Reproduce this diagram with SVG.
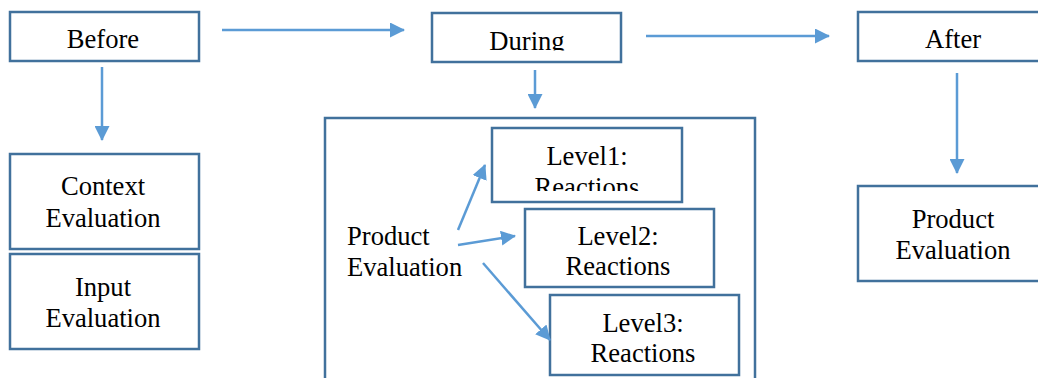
<svg xmlns="http://www.w3.org/2000/svg" width="1038" height="378" viewBox="0 0 1038 378">
<style>
.box{fill:#fff;stroke:#41719c;stroke-width:2.5}
.t{font-family:"Liberation Serif","Times New Roman",serif;font-size:26.6px;fill:#000}
.c{text-anchor:middle}
.cn{fill:none;stroke:#5b9bd5;stroke-width:2.5}
</style>
<defs>
<marker id="ah" markerUnits="userSpaceOnUse" markerWidth="15" markerHeight="15" refX="14" refY="7.5" orient="auto" viewBox="0 0 15 15">
<path d="M0,0 L15,7.5 L0,15 z" fill="#5b9bd5"/>
</marker>
<clipPath id="cpDuring"><rect x="432" y="13" width="189" height="37.5"/></clipPath>
<clipPath id="cpL1"><rect x="492" y="128" width="190" height="63"/></clipPath>
</defs>
<rect width="1038" height="378" fill="#fff"/>
<g id="container"><rect class="box" x="325" y="118" width="430" height="280"/></g>
<g id="before"><rect class="box" x="10" y="12" width="189" height="49"/><text class="t c" x="103" y="48">Before</text></g>
<g id="during"><rect class="box" x="432" y="13" width="189" height="49"/><text class="t c" x="527" y="50" clip-path="url(#cpDuring)">During</text></g>
<g id="after"><rect class="box" x="858" y="12" width="192" height="49"/><text class="t c" x="953" y="48">After</text></g>
<g id="context"><rect class="box" x="10" y="154" width="189" height="95"/><text class="t c" x="103" y="195">Context</text><text class="t c" x="103" y="227">Evaluation</text></g>
<g id="input"><rect class="box" x="10" y="254" width="189" height="95"/><text class="t c" x="103" y="296">Input</text><text class="t c" x="103" y="327">Evaluation</text></g>
<g id="product-after"><rect class="box" x="858" y="186" width="192" height="95"/><text class="t c" x="953" y="228">Product</text><text class="t c" x="953" y="259">Evaluation</text></g>
<g id="product-during"><text class="t" x="347" y="245">Product</text><text class="t" x="347" y="276">Evaluation</text></g>
<g id="level1"><rect class="box" x="492" y="128" width="190" height="74"/><text class="t c" x="587" y="165">Level1:</text><text class="t c" x="587" y="196" clip-path="url(#cpL1)">Reactions</text></g>
<g id="level2"><rect class="box" x="525" y="209" width="189" height="78"/><text class="t c" x="618" y="245">Level2:</text><text class="t c" x="618" y="275">Reactions</text></g>
<g id="level3"><rect class="box" x="550" y="295" width="189" height="80"/><text class="t c" x="643" y="332">Level3:</text><text class="t c" x="643" y="362">Reactions</text></g>
<g id="connectors">
<line class="cn" x1="222" y1="30" x2="404" y2="30" marker-end="url(#ah)"/>
<line class="cn" x1="646" y1="36" x2="829" y2="36" marker-end="url(#ah)"/>
<line class="cn" x1="102" y1="67" x2="102" y2="140" marker-end="url(#ah)"/>
<line class="cn" x1="535" y1="70" x2="535" y2="108" marker-end="url(#ah)"/>
<line class="cn" x1="957" y1="73" x2="957" y2="173" marker-end="url(#ah)"/>
<line class="cn" x1="458" y1="230" x2="485" y2="165" marker-end="url(#ah)"/>
<line class="cn" x1="458" y1="245" x2="515" y2="236" marker-end="url(#ah)"/>
<line class="cn" x1="483" y1="263" x2="550" y2="340" marker-end="url(#ah)"/>
</g>
</svg>
